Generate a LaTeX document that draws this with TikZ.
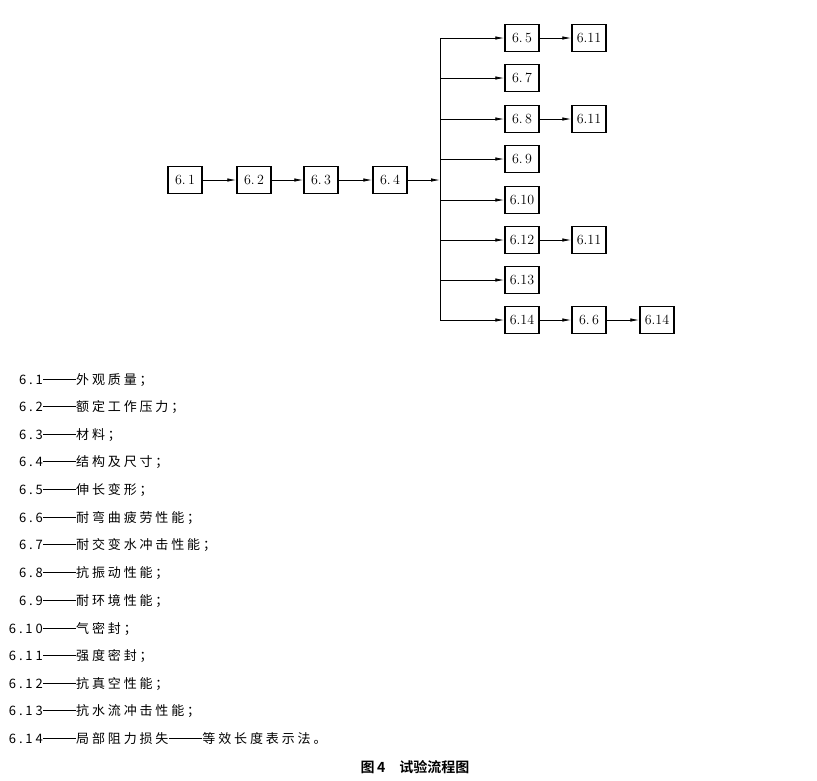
\documentclass[tikz,border=0pt]{standalone}
\usepackage{fontspec}
\newfontfamily\cjk[LetterSpace=22]{Noto Sans CJK SC}
\newfontfamily\cjkb{Noto Sans CJK SC Bold}
\usetikzlibrary{arrows.meta}
\begin{document}
\begin{tikzpicture}[x=1pt,y=-1pt,
  bx/.style={draw,line width=1.5pt,minimum width=34pt,minimum height=27pt,inner sep=0pt,font=\fontsize{14}{15}\selectfont},
  ar/.style={-{Latex[length=9pt,width=3.5pt]},line width=0.8pt},
  lg/.style={anchor=base west,inner sep=0pt,font=\cjk\fontsize{13}{14}\selectfont},
  ln/.style={anchor=base east,inner sep=0pt,font=\cjk\fontsize{13}{14}\selectfont}]
\useasboundingbox (0,0) rectangle (817,780);
\node[bx] (a1) at (185,180) {6.\,1};
\node[bx] (a2) at (254,180) {6.\,2};
\node[bx] (a3) at (321,180) {6.\,3};
\node[bx] (a4) at (390,180) {6.\,4};
\coordinate (j) at (440,180);
\draw[ar] (a1) -- (a2);
\draw[ar] (a2) -- (a3);
\draw[ar] (a3) -- (a4);
\draw[ar] (a4) -- (j);
\coordinate (jt) at (440,38);
\coordinate (jb) at (440,320);
\draw[line width=0.8pt] (jt) -- (jb);
\foreach \n/\t/\yy in {b5/6.\,5/38,b7/6.\,7/78,b8/6.\,8/119,b9/6.\,9/159,b10/6.10/200,b12/6.12/240,b13/6.13/280,b14/6.14/320}{
  \node[bx] (\n) at (522,\yy) {\t};
  \coordinate (s\n) at (440,\yy);
  \draw[ar] (s\n) -- (\n);
}
\node[bx] (c5) at (589,38) {6.11};
\node[bx] (c8) at (589,119) {6.11};
\node[bx] (c12) at (589,240) {6.11};
\node[bx] (c14) at (589,320) {6.\,6};
\node[bx] (d14) at (657,320) {6.14};
\draw[ar] (b5) -- (c5);
\draw[ar] (b8) -- (c8);
\draw[ar] (b12) -- (c12);
\draw[ar] (b14) -- (c14);
\draw[ar] (c14) -- (d14);
\foreach \k/\num/\txt/\yy in {1/6.1/外观质量；/384,2/6.2/额定工作压力；/411,3/6.3/材料；/439,4/6.4/结构及尺寸；/466,5/6.5/伸长变形；/494,6/6.6/耐弯曲疲劳性能；/522,7/6.7/耐交变水冲击性能；/549,8/6.8/抗振动性能；/577,9/6.9/耐环境性能；/605,10/6.10/气密封；/633,11/6.11/强度密封；/660,12/6.12/抗真空性能；/688,13/6.13/抗水流冲击性能；/715,14/6.14/局部阻力损失\rule[4.5pt]{34pt}{0.8pt}等效长度表示法。/743}{
  \node[ln] (n\k) at (43,\yy) {\num};
  \node[lg] (t\k) at (43,\yy) {\rule[4.5pt]{33pt}{0.8pt}\txt};
}
\node[font=\cjkb\fontsize{14}{15}\selectfont] (cap) at (415,767) {图\,4\quad 试验流程图};
\end{tikzpicture}
\end{document}
